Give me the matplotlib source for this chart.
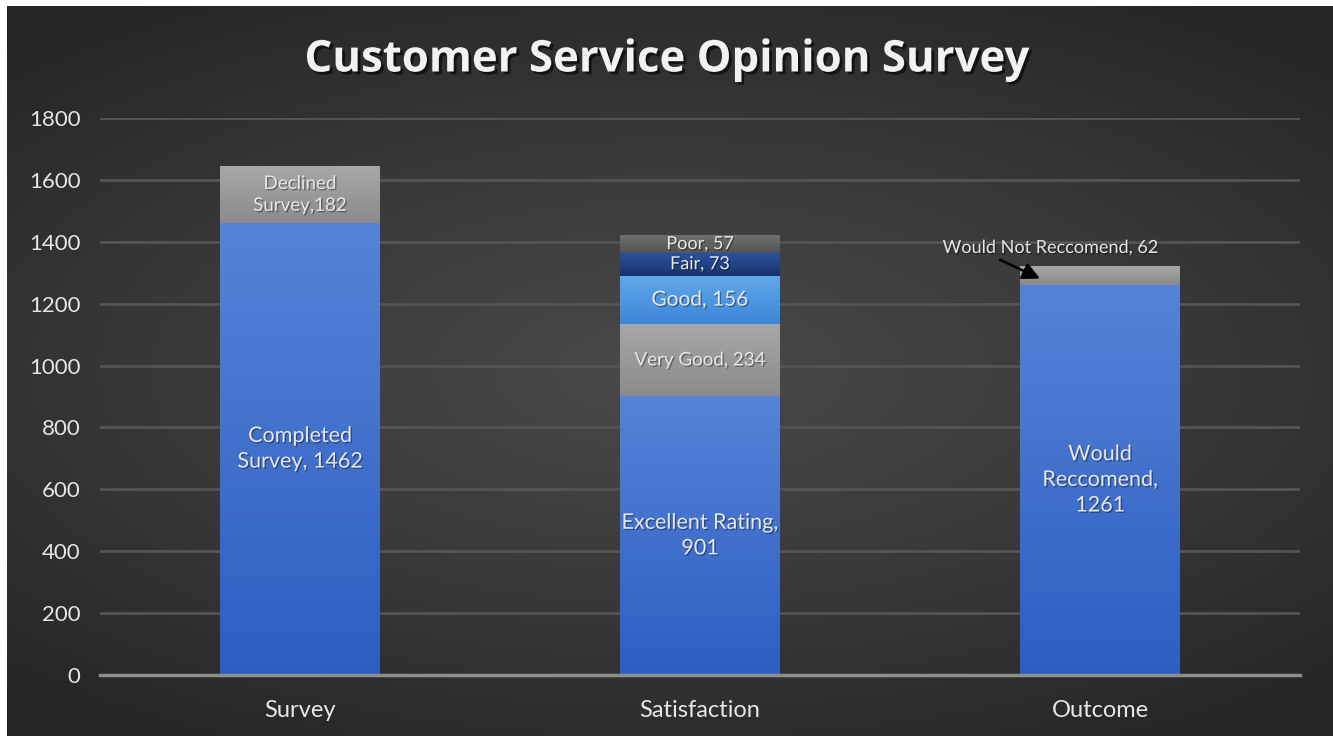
import matplotlib
matplotlib.use("Agg")
import matplotlib.pyplot as plt
import matplotlib.patheffects as pe
from matplotlib.colors import LinearSegmentedColormap
import numpy as np

# chart data
categories = ["Survey", "Satisfaction", "Outcome"]
survey_vals = [1462, 182]
survey_labels = ["Completed\nSurvey, 1462", "Declined\nSurvey,182"]
satisfaction_vals = [901, 234, 156, 73, 57]
satisfaction_labels = ["Excellent Rating,\n901", "Very Good, 234", "Good, 156", "Fair, 73", "Poor, 57"]
outcome_vals = [1261, 62]
outcome_labels = ["Would\nReccomend,\n1261", "Would Not Reccomend, 62"]
yticks = [0, 200, 400, 600, 800, 1000, 1200, 1400, 1600, 1800]

# (top colour, bottom colour) per segment
BLUE = ("#5683d8", "#2d5ec1")
GRAY = ("#a8a8a8", "#8b8b8b")
LIGHTBLUE = ("#62a8ea", "#3b86d6")
NAVY = ("#2c519c", "#19336e")
DARKGRAY = ("#707070", "#545454")
survey_colors = [BLUE, GRAY]
satisfaction_colors = [BLUE, GRAY, LIGHTBLUE, NAVY, DARKGRAY]
outcome_colors = [BLUE, GRAY]

FONT = ["Lato", "DejaVu Sans"]
TXT = "#e6e6e6"
shadow = [pe.withSimplePatchShadow(offset=(1, -1), shadow_rgbFace="black", alpha=0.35)]

fig = plt.figure(figsize=(13.33, 7.36), dpi=100, facecolor="white")

# dark radial background
bg = fig.add_axes([7 / 1333, 0, 1 - 7 / 1333, 1 - 6 / 736])
bg.set_axis_off()
yy, xx = np.mgrid[-1:1:300j, -1:1:500j]
r = np.sqrt((xx * 0.9) ** 2 + (yy * 1.1) ** 2)
bg_cmap = LinearSegmentedColormap.from_list("bg", ["#4a4a4a", "#393939", "#252525"])
bg.imshow(r, cmap=bg_cmap, aspect="auto", extent=[0, 1, 0, 1], vmin=0, vmax=1.35)
bg.set_xlim(0, 1)
bg.set_ylim(0, 1)

ax = fig.add_axes([100 / 1333, 61 / 736, 1200 / 1333, (675 - 118) / 736])
ax.patch.set_alpha(0)
ax.set_xlim(-0.5, 2.5)
ax.set_ylim(0, 1800)

width = 0.4


def grad_bar(x, bottom, h, cols):
    bar = ax.bar(x, h, width, bottom=bottom, color="none", edgecolor="none", zorder=3)[0]
    cmap = LinearSegmentedColormap.from_list("g", [cols[1], cols[0]])
    grad = np.linspace(0, 1, 64).reshape(-1, 1)
    im = ax.imshow(grad, cmap=cmap, aspect="auto", origin="lower",
                   extent=[x - width / 2, x + width / 2, bottom, bottom + h], zorder=3)
    im.set_clip_path(bar)
    return bar


stacks = [
    (survey_vals, survey_labels, survey_colors),
    (satisfaction_vals, satisfaction_labels, satisfaction_colors),
    (outcome_vals, outcome_labels, outcome_colors),
]
label_sizes = {"Poor, 57": 13, "Fair, 73": 13, "Very Good, 234": 13.5,
               "Declined\nSurvey,182": 13.5, "Good, 156": 15}

for i, (vals, labels, cols) in enumerate(stacks):
    bottom = 0
    for v, lab, c in zip(vals, labels, cols):
        grad_bar(i, bottom, v, c)
        if lab != "Would Not Reccomend, 62":
            size = label_sizes.get(lab, 15.5)
            ax.text(i, bottom + v / 2, lab, ha="center", va="center", color=TXT,
                    fontsize=size, family=FONT, zorder=5, linespacing=1.35,
                    path_effects=shadow)
        bottom += v

# call-out for the thin slice on Outcome
ax.text(1.875, 1380, outcome_labels[1], ha="center", va="center", color=TXT,
        fontsize=13, family=FONT, zorder=6, path_effects=shadow)
ax.annotate("", xy=(1.85, 1281), xytext=(1.75, 1342),
            arrowprops=dict(arrowstyle="-|>", color="black", lw=1.8, mutation_scale=26,
                            shrinkA=0, shrinkB=0),
            zorder=6, annotation_clip=False)

ax.set_xticks(range(len(categories)))
ax.set_xticklabels(categories, color=TXT, fontsize=17, family=FONT)
ax.set_yticks(yticks)
ax.set_yticklabels([str(t) for t in yticks], color=TXT, fontsize=16, family=FONT)
ax.tick_params(axis="x", length=0, pad=18)
ax.tick_params(axis="y", length=0, pad=14)
for s in ["top", "right", "left"]:
    ax.spines[s].set_visible(False)
ax.spines["bottom"].set_color("#8f8f8f")
ax.spines["bottom"].set_linewidth(2.5)
ax.spines["bottom"].set_zorder(4)
ax.grid(axis="y", color="#545454", linewidth=2)
ax.set_axisbelow(True)

fig.text(0.5, 1 - 60 / 736, "Customer Service Opinion Survey", ha="center", va="center",
         color="#f2f2f2", fontsize=31.5, fontweight="bold", family=["Open Sans", "DejaVu Sans"],
         path_effects=[pe.withSimplePatchShadow(offset=(2, -2), shadow_rgbFace="black", alpha=0.6)])

fig.savefig("out.png", dpi=100, facecolor=fig.get_facecolor())
